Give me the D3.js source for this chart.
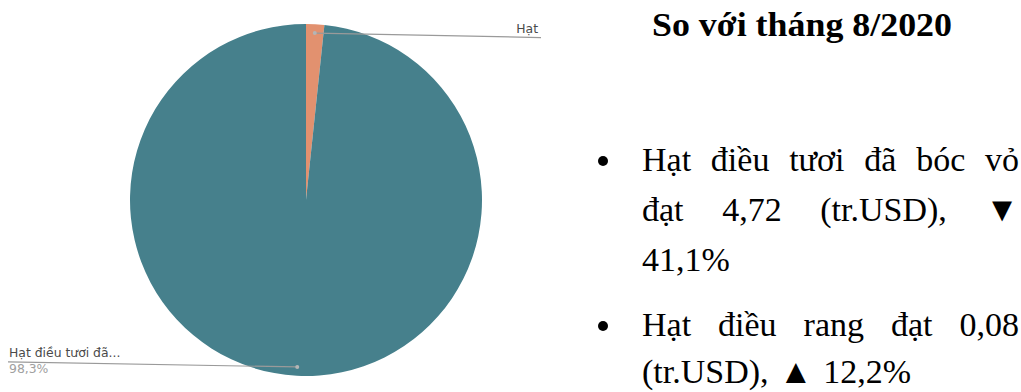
<!DOCTYPE html>
<html>
<head>
<meta charset="utf-8">
<script src="https://cdn.jsdelivr.net/npm/d3@7"></script>
<style>
  html, body { margin: 0; padding: 0; background: #ffffff; }
  svg { display: block; }
</style>
</head>
<body>
<svg id="chart" width="1021" height="392"></svg>
<script>
// Export value of cashew products (million USD)
const categories = ["Hạt điều rang", "Hạt điều tươi đã bóc vỏ"];
const values = [0.08, 4.72];
const sliceColors = ["#e2916f", "#46808c"];
// Short names printed next to each slice (long ones are cut by the chart tool)
const sliceLabels = ["Hạt", "Hạt điều tươi đã..."];
const showPercent = [false, true];

// Side note text
const title = "So với tháng 8/2020";
const bulletLines = [
  [{ t: "Hạt điều tươi đã bóc vỏ", justify: true },
   { t: "đạt 4,72 (tr.USD), ▼", justify: true },
   { t: "41,1%", justify: false }],
  [{ t: "Hạt điều rang đạt 0,08", justify: true },
   { t: "(tr.USD), ▲ 12,2%", justify: false }]
];

const svg = d3.select("#chart");

// ---- Pie ----
const cx = 306, cy = 200, R = 176;
const pie = d3.pie().sort(null).value(d => d.v);
const arcs = pie(categories.map((c, i) => ({ c, v: values[i], i })));
const arc = d3.arc().innerRadius(0).outerRadius(R);
const dotArc = d3.arc().innerRadius(R * 0.95).outerRadius(R * 0.95);
const total = d3.sum(values);
const fmtPct = v => d3.format(".1f")(v * 100).replace(".", ",") + "%";

const g = svg.append("g").attr("transform", `translate(${cx},${cy})`);
g.selectAll("path.slice")
  .data(arcs)
  .join("path")
  .attr("class", "slice")
  .attr("d", arc)
  .attr("fill", d => sliceColors[d.data.i]);

// Leader lines run out to the side of the slice's half
const labelFont = "'DejaVu Sans', Verdana, sans-serif";
arcs.forEach(a => {
  const [px, py] = dotArc.centroid(a);
  const mid = (a.startAngle + a.endAngle) / 2;
  const right = Math.sin(mid) >= 0 && Math.cos(mid) > 0;
  const ex = right ? 541 - cx : 8 - cx;
  const ey = right ? py + 4.5 : py - 5;
  g.append("line")
    .attr("x1", px).attr("y1", py).attr("x2", ex).attr("y2", ey)
    .attr("stroke", "#9a9a9a").attr("stroke-width", 1.2);
  g.append("circle")
    .attr("cx", px).attr("cy", py).attr("r", 2)
    .attr("fill", "#b5b5b5");
  const i = a.data.i;
  g.append("text")
    .attr("x", right ? ex - 3 : ex + 1)
    .attr("y", ey - 5)
    .attr("text-anchor", right ? "end" : "start")
    .attr("font-family", labelFont)
    .attr("font-size", 12.4)
    .attr("fill", "#4a4a4a")
    .text(sliceLabels[i]);
  if (showPercent[i]) {
    g.append("text")
      .attr("x", right ? ex - 3 : ex + 1)
      .attr("y", ey + 11)
      .attr("text-anchor", right ? "end" : "start")
      .attr("font-family", labelFont)
      .attr("font-size", 12.4)
      .attr("fill", "#a0a0a0")
      .text(fmtPct(a.data.v / total));
  }
});

// ---- Side note ----
const serif = "'Liberation Serif', 'Times New Roman', serif";
svg.append("text")
  .attr("x", 802).attr("y", 36)
  .attr("text-anchor", "middle")
  .attr("font-family", serif)
  .attr("font-weight", "bold")
  .attr("font-size", 34)
  .attr("textLength", 300)
  .attr("lengthAdjust", "spacingAndGlyphs")
  .attr("fill", "#000")
  .text(title);

const textX0 = 642, textX1 = 1019;
const lineYs = [[171, 221, 271], [336, 383]];
const bulletX = 603;

function drawLine(str, y, justify) {
  const words = str.split(" ");
  const nodes = words.map(w => svg.append("text")
    .attr("y", y)
    .attr("font-family", serif)
    .attr("font-size", 34)
    .attr("fill", "#000")
    .text(w));
  const widths = nodes.map(n => n.node().getComputedTextLength());
  const wordSum = d3.sum(widths);
  const gap = justify && words.length > 1
    ? (textX1 - textX0 - wordSum) / (words.length - 1)
    : 10.5;
  let x = textX0;
  nodes.forEach((n, k) => { n.attr("x", x); x += widths[k] + gap; });
}

bulletLines.forEach((para, p) => {
  svg.append("circle")
    .attr("cx", bulletX).attr("cy", lineYs[p][0] - 10).attr("r", 5)
    .attr("fill", "#000");
  para.forEach((ln, k) => drawLine(ln.t, lineYs[p][k], ln.justify));
});
</script>
</body>
</html>
